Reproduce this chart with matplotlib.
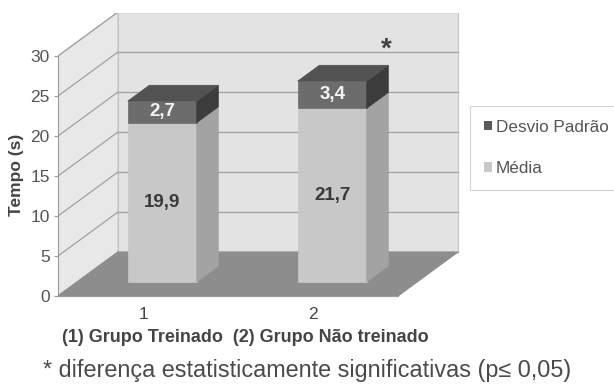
import matplotlib.pyplot as plt
from matplotlib.patches import Polygon, Patch

plt.rcParams['font.family'] = ['Liberation Sans', 'DejaVu Sans']

# data
groups = [1, 2]
group_labels = ['1', '2']
media = [19.9, 21.7]
desvio = [2.7, 3.4]
media_labels = ['19,9', '21,7']
desvio_labels = ['2,7', '3,4']
yticks = [0, 5, 10, 15, 20, 25, 30]

# fake 3d geometry (data units)
dx, dy = 0.353, 5.5          # full depth offset
d0, d1 = 0.32, 0.68          # bar depth span as fraction of full depth
w = 0.406                    # bar width
x0, x1 = 0.5, 2.5
ymax = 30

fig = plt.figure(figsize=(6.14, 3.85), dpi=100)
W, H = 614, 385
ax = fig.add_axes([58 / W, (H - 296) / H, (460 - 58) / W, (296 - 13) / H])
ax.set_xlim(x0, x0 + (460 - 58) / 170)
ax.set_ylim(0, (296 - 13) / 8)

wall_back = '#e3e3e3'
wall_left = '#e8e8e8'
floor_c = '#8d8d8d'
grid_c = '#a0a0a0'

# walls and floor
ax.add_patch(Polygon([(x0 + dx, dy), (x1 + dx, dy), (x1 + dx, ymax + dy), (x0 + dx, ymax + dy)],
                     closed=True, fc=wall_back, ec='#c4c4c4', lw=0.8, zorder=1))
ax.add_patch(Polygon([(x0, 0), (x0 + dx, dy), (x0 + dx, ymax + dy), (x0, ymax)],
                     closed=True, fc=wall_left, ec='#c4c4c4', lw=0.8, zorder=1))
for v in yticks:
    ax.plot([x0 + dx, x1 + dx], [v + dy, v + dy], color=grid_c, lw=0.9, zorder=2)
    ax.plot([x0, x0 + dx], [v, v + dy], color=grid_c, lw=0.9, zorder=2)
ax.add_patch(Polygon([(x0, 0), (x1, 0), (x1 + dx, dy), (x0 + dx, dy)],
                     closed=True, fc=floor_c, ec=floor_c, lw=0.8, zorder=3))


def box(xc, y_bot, y_top, front, side, top=None):
    xl = xc - w / 2 + d0 * dx
    xr = xc + w / 2 + d0 * dx
    b = y_bot + d0 * dy
    t = y_top + d0 * dy
    ddx, ddy = (d1 - d0) * dx, (d1 - d0) * dy
    ax.add_patch(Polygon([(xl, b), (xr, b), (xr, t), (xl, t)], closed=True,
                         fc=front, ec=front, lw=0.5, zorder=4))
    ax.add_patch(Polygon([(xr, b), (xr + ddx, b + ddy), (xr + ddx, t + ddy), (xr, t)],
                         closed=True, fc=side, ec=side, lw=0.5, zorder=4))
    if top:
        ax.add_patch(Polygon([(xl, t), (xr, t), (xr + ddx, t + ddy), (xl + ddx, t + ddy)],
                             closed=True, fc=top, ec=top, lw=0.5, zorder=4))
    return (xl + xr) / 2, (b + t) / 2


for g, m, s, ml, sl in zip(groups, media, desvio, media_labels, desvio_labels):
    cx, cy = box(g, 0, m, '#c8c8c8', '#a3a3a3')
    ax.text(cx, cy, ml, ha='center', va='center', fontsize=13.5, fontweight='bold', color='#3a3a3a', zorder=5)
    cx, cy = box(g, m, m + s, '#6c6c6c', '#3c3c3c', '#525252')
    ax.text(cx, cy, sl, ha='center', va='center', fontsize=13.5, fontweight='bold', color='#f4f4f4', zorder=5)

# significance star above group 2
ax.text(groups[1] + w / 2 + d1 * dx - 0.01, media[1] + desvio[1] + d1 * dy + 2.0, '*',
        ha='center', va='center', fontsize=20, fontweight='bold', color='#444444', zorder=5)

# axes decoration
for sp in ['top', 'right']:
    ax.spines[sp].set_visible(False)
ax.spines['left'].set_bounds(0, ymax)
ax.spines['bottom'].set_bounds(x0, x1)
ax.spines['left'].set_color('#9a9a9a')
ax.spines['bottom'].set_color('#9a9a9a')
ax.set_yticks(yticks)
ax.set_yticklabels([str(v) for v in yticks])
ax.set_xticks(groups)
ax.set_xticklabels(group_labels)
ax.tick_params(axis='y', length=3, color='#9a9a9a', labelsize=12.5, labelcolor='#555555', pad=3)
ax.tick_params(axis='x', length=0, labelsize=12.5, labelcolor='#444444', pad=8)

fig.text(17 / W, 1 - 175 / H, 'Tempo (s)', rotation=90, ha='center', va='center',
         fontsize=12.5, fontweight='bold', color='#444444')
fig.text(245 / W, 1 - 338 / H, '(1) Grupo Treinado  (2) Grupo Não treinado', ha='center', va='center',
         fontsize=13, fontweight='bold', color='#444444')
fig.text(43 / W, 1 - 370 / H, '* diferença estatisticamente significativas (p≤ 0,05)', ha='left', va='center',
         fontsize=16.8, color='#4a4a4a')

handles = [Patch(fc='#5a5a5a', ec='none'), Patch(fc='#c8c8c8', ec='none')]
leg = fig.legend(handles, ['Desvio Padrão', 'Média'], loc='upper left',
                 bbox_to_anchor=(470 / W, 1 - 106 / H), fontsize=12.3, frameon=True, fancybox=False,
                 handlelength=0.5, handleheight=0.5, handletextpad=0.2, labelspacing=1.55,
                 borderpad=0.8, borderaxespad=0)
leg.get_frame().set_edgecolor('#c8c8c8')
leg.get_frame().set_linewidth(0.8)
for t in leg.get_texts():
    t.set_color('#555555')

fig.savefig('out.png', dpi=100)
